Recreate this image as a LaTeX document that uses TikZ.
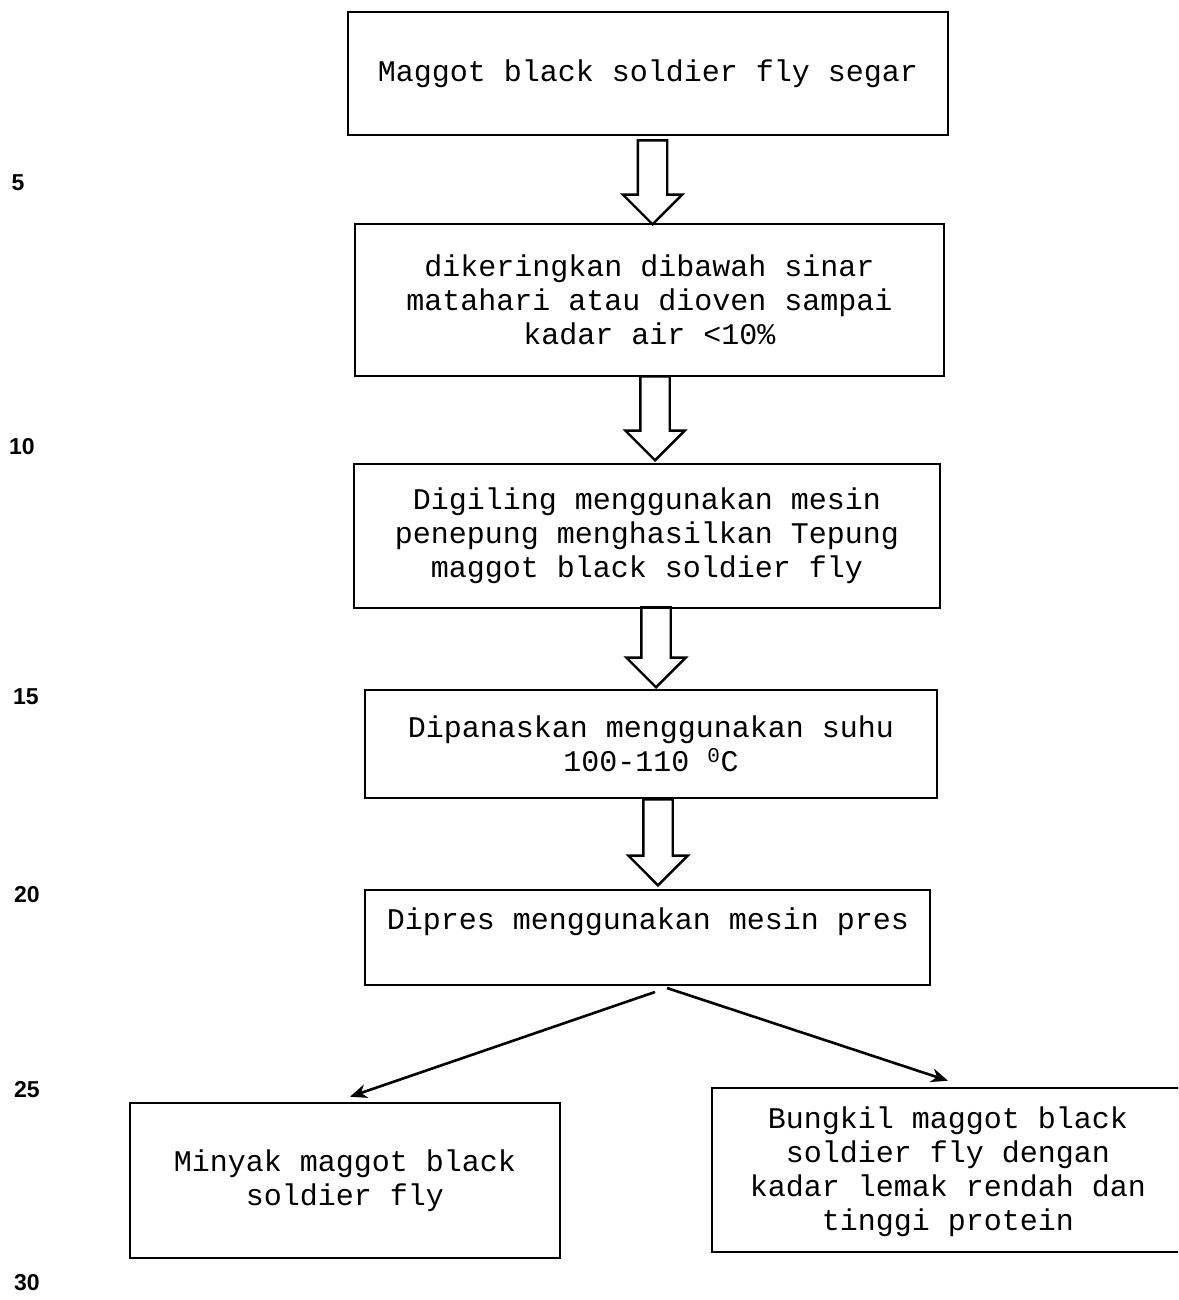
\documentclass[tikz,border=0pt]{standalone}
\usepackage{fontspec}
\setmonofont{Liberation Mono}
\newfontfamily\numfont{Liberation Sans}
\usetikzlibrary{shapes.arrows,arrows.meta}
\begin{document}
\begin{tikzpicture}[x=1pt,y=-1pt,
  box/.style={draw,line width=2.6pt,inner sep=0pt,align=center,
    font=\ttfamily\fontsize{30}{34}\selectfont},
  txt/.style={inner sep=0pt,align=center,font=\ttfamily\fontsize{30}{34}\selectfont},
  hollow/.style={single arrow,draw,line width=2.4pt,inner xsep=13.5pt,inner ysep=0pt,
    single arrow head extend=15pt,shape border rotate=270,anchor=tip},
  branch/.style={line width=2.6pt,-{Stealth[length=17pt,width=14pt]}},
  lnum/.style={inner sep=0pt,font=\numfont\bfseries\fontsize{23}{23}\selectfont}]
\useasboundingbox (0,0) rectangle (1178,1300);
\clip (0,0) rectangle (1178,1300);
\fill[white] (0,0) rectangle (1178,1300);

% line numbers
\node[lnum] (n5) at (18,183) {5};
\node[lnum] (n10) at (22,447) {10};
\node[lnum] (n15) at (26,697) {15};
\node[lnum] (n20) at (27,895) {20};
\node[lnum] (n25) at (27,1090) {25};
\node[lnum] (n30) at (27,1283) {30};

% boxes
\node[box,minimum width=600pt,minimum height=123pt] (b1) at (648,73.5)
  {Maggot black soldier fly segar};
\node[box,minimum width=589pt,minimum height=152pt] (b2) at (649.5,300)
  {dikeringkan dibawah sinar\\matahari atau dioven sampai\\kadar air <10\%};
\node[box,minimum width=586pt,minimum height=144pt] (b3) at (647,536)
  {Digiling menggunakan mesin\\penepung menghasilkan Tepung\\maggot black soldier fly};
\node[box,minimum width=572pt,minimum height=108pt] (b4) at (651,744)
  {Dipanaskan menggunakan suhu\\100-110 \textsuperscript{0}C};
\node[box,minimum width=565pt,minimum height=95pt] (b5) at (647.5,937.5) {};
\node[txt] (t5) at (648,922) {Dipres menggunakan mesin pres};
\node[box,minimum width=430pt,minimum height=155pt] (b6) at (345,1180.5)
  {Minyak maggot black\\soldier fly};
\node[box,minimum width=478pt,minimum height=164pt] (b7) at (951,1170) {};
\node[txt] (t7) at (948,1172)
  {Bungkil maggot black\\soldier fly dengan\\kadar lemak rendah dan\\tinggi protein};

% hollow arrows (tip on the next box)
\node[hollow,minimum height=84pt] (a1) at (652.5,226) {};
\node[hollow,minimum height=84pt] (a2) at (655,462) {};
\node[hollow,minimum height=80pt] (a3) at (656,689) {};
\node[hollow,minimum height=86pt] (a4) at (658,887) {};

% branches
\coordinate (s1) at (655,992);
\coordinate (s2) at (667,988);
\draw[branch] (s1) -- ([shift={(5,-5)}]b6.north);
\draw[branch] (s2) -- ([shift={(-3,-6)}]b7.north);
\end{tikzpicture}
\end{document}
